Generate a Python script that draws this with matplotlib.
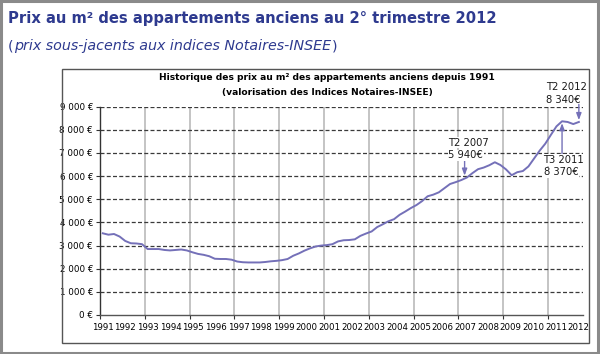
import matplotlib

matplotlib.use("Agg")
import matplotlib.pyplot as plt
from matplotlib.patches import Rectangle

# quarterly prices (EUR/m2), 1991 T1 .. 2012 T2
years = list(range(1991, 2013))
prices = [
    3530, 3470, 3500, 3390,  # 1991
    3200, 3100, 3090, 3060,  # 1992
    2850, 2850, 2850, 2810,  # 1993
    2790, 2810, 2830, 2790,  # 1994
    2710, 2640, 2600, 2540,  # 1995
    2430, 2420, 2420, 2390,  # 1996
    2310, 2280, 2270, 2270,  # 1997
    2270, 2290, 2320, 2340,  # 1998
    2370, 2420, 2560, 2660,  # 1999
    2780, 2880, 2960, 3000,  # 2000
    3020, 3060, 3180, 3230,  # 2001
    3240, 3270, 3420, 3520,  # 2002
    3610, 3800, 3920, 4050,  # 2003
    4140, 4330, 4470, 4620,  # 2004
    4750, 4920, 5130, 5200,  # 2005
    5300, 5480, 5660, 5740,  # 2006
    5830, 5940, 6130, 6300,  # 2007
    6370, 6470, 6600, 6480,  # 2008
    6290, 6040, 6170, 6220,  # 2009
    6420, 6760, 7100, 7400,  # 2010
    7780, 8150, 8370, 8340,  # 2011
    8250, 8340,              # 2012
]
y_ticks = list(range(0, 10000, 1000))

# annotations: (label, value text, quarter index)
notes = [("T2 2007", "5 940€", 65), ("T3 2011", "8 370€", 82), ("T2 2012", "8 340€", 85)]

BLUE = "#2e3a8f"
LINE = "#7470b8"
NARROW = ["Liberation Sans Narrow", "DejaVu Sans"]

t = [1991 + (i + 0.5) / 4 for i in range(len(prices))]

fig = plt.figure(figsize=(6, 3.54), dpi=100)
fig.patch.set_facecolor("white")

# outer frame and inner chart box
fig.add_artist(Rectangle((0.002, 0.004), 0.994, 0.992, transform=fig.transFigure,
                         fill=False, edgecolor="#8a8a8a", linewidth=2.2))
fig.add_artist(Rectangle((62 / 600, 1 - 343 / 354), (589 - 62) / 600, (343 - 69) / 354,
                         transform=fig.transFigure, fill=False, edgecolor="#555555", linewidth=1.0))

fig.text(8 / 600, 1 - 19 / 354, "Prix au m² des appartements anciens au 2° trimestre 2012",
         color=BLUE, fontsize=10.6, fontweight="bold", va="center", family="DejaVu Sans")

# subtitle: upright parentheses around italic text, placed piece by piece
renderer = fig.canvas.get_renderer()
x_px = 8
for piece, style in [("(", "normal"), ("prix sous-jacents aux indices Notaires-INSEE", "italic"), (")", "normal")]:
    txt = fig.text(x_px / 600, 1 - 46 / 354, piece, color=BLUE, fontsize=10.3, style=style, va="center")
    x_px += txt.get_window_extent(renderer).width + (1 if style == "italic" else 0.5)

fig.text(327 / 600, 1 - 78 / 354,
         "Historique des prix au m² des appartements anciens depuis 1991",
         ha="center", va="center", fontsize=6.6, fontweight="bold", family="DejaVu Sans")
fig.text(327 / 600, 1 - 92 / 354, "(valorisation des Indices Notaires-INSEE)",
         ha="center", va="center", fontsize=6.6, fontweight="bold", family="DejaVu Sans")

ax = fig.add_axes([100 / 600, 39 / 354, 483 / 600, (315 - 106.7) / 354])
ax.set_xlim(1991, 2012.56)
ax.set_ylim(0, 9000)

for x in range(1993, 2012, 2):
    ax.axvline(x, color="#b4b4b4", linewidth=1.1, zorder=1)
for v in y_ticks[1:]:
    ax.axhline(v, color="#3a3a3a", linewidth=0.9, linestyle=(0, (3.2, 1.8)), zorder=1)

ax.plot(t, prices, color=LINE, linewidth=1.4, zorder=3)

for spine in ["top", "right"]:
    ax.spines[spine].set_visible(False)
ax.spines["left"].set_color("#333333")
ax.spines["bottom"].set_color("#555555")
ax.spines["left"].set_linewidth(1.0)
ax.spines["bottom"].set_linewidth(1.0)

ax.set_yticks(y_ticks)
ax.set_yticklabels([f"{v:,} €".replace(",", " ") for v in y_ticks])
ax.set_xticks(range(1991, 2013, 2))
ax.set_xticklabels([])
ax.tick_params(axis="y", length=3, width=0.8, color="#333333", pad=2, labelsize=6.3)
ax.tick_params(axis="x", length=3, width=0.8, color="#333333")
for lab in ax.get_yticklabels():
    lab.set_family(NARROW)

for i, yr in enumerate(years):
    ax.text(yr + 0.12 + i * 0.012, -560, str(yr), ha="center", va="center", fontsize=6.2,
            family=NARROW)

bbox = dict(facecolor="white", edgecolor="none", pad=0.6)
arrow = dict(arrowstyle="-|>,head_width=0.15,head_length=0.4", color=LINE, linewidth=1.0,
             shrinkA=0, shrinkB=0)
note_kw = dict(fontsize=7.2, va="center", ha="left", color="#1a1a1a", zorder=5)

# T2 2007
lab, val, i = notes[0]
ax.annotate("", xy=(t[i] - 0.1, prices[i] + 80), xytext=(t[i] - 0.1, 6800), arrowprops=arrow, zorder=4)
ax.text(2006.55, 7450, lab, bbox=bbox, **note_kw)
ax.text(2006.55, 6900, val, bbox=bbox, **note_kw)

# T3 2011
lab, val, i = notes[1]
ax.annotate("", xy=(t[i], prices[i] - 80), xytext=(t[i], 6950), arrowprops=arrow, zorder=4)
ax.text(2010.8, 6700, lab, bbox=bbox, **note_kw)
ax.text(2010.8, 6160, val, bbox=bbox, **note_kw)

# T2 2012
lab, val, i = notes[2]
ax.annotate("", xy=(t[i], prices[i] + 80), xytext=(t[i], 9100), arrowprops=arrow, zorder=4,
            annotation_clip=False)
ax.text(2010.9, 9850, lab, clip_on=False, **note_kw)
ax.text(2010.9, 9300, val, clip_on=False, **note_kw)

fig.savefig("out.png", dpi=100, facecolor=fig.get_facecolor())
